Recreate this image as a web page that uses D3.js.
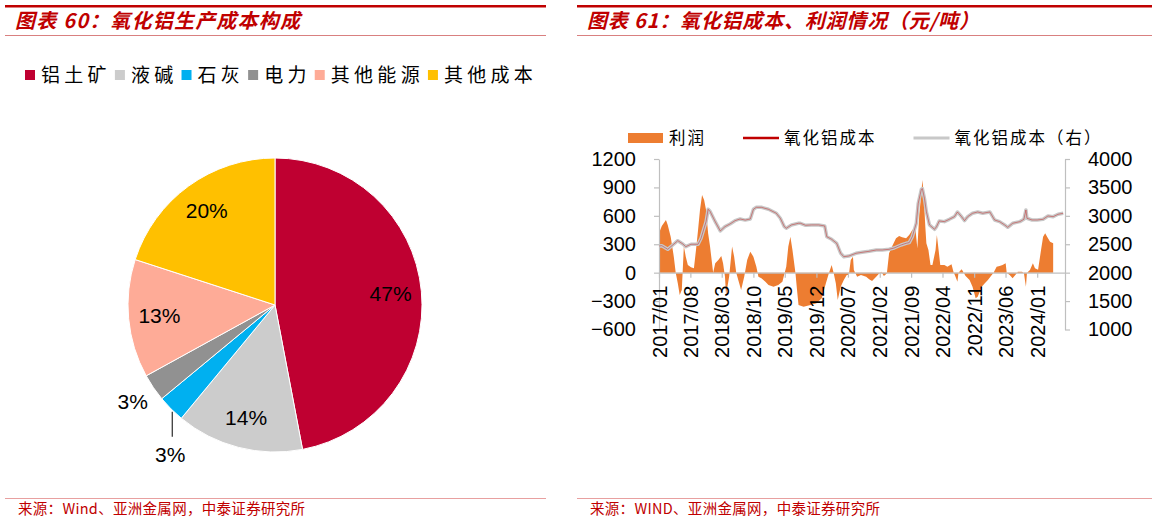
<!DOCTYPE html>
<html>
<head>
<meta charset="utf-8">
<script src="https://cdn.jsdelivr.net/npm/d3@7"></script>
<style>
  body { margin: 0; background: #fff; }
  text { font-family: "Liberation Sans", Arial, sans-serif; }
  .cjk { font-family: "Noto Sans CJK SC", sans-serif; }
</style>
</head>
<body>
<svg id="drawing_region"></svg>
<script>
// ---- 图表60 data ----
const pieLabels = ['铝土矿', '液碱', '石灰', '电力', '其他能源', '其他成本'];
const pieValues = [47, 14, 3, 3, 13, 20];

// ---- 图表61 data ----
const xTickLabels = ['2017/01','2017/08','2018/03','2018/10','2019/05','2019/12','2020/07',
                     '2021/02','2021/09','2022/04','2022/11','2023/06','2024/01'];
const leftTicks = [-600, -300, 0, 300, 600, 900, 1200];
const rightTicks = [1000, 1500, 2000, 2500, 3000, 3500, 4000];
const seriesNames = ['利润', '氧化铝成本', '氧化铝成本（右）'];

const profitDates = ['2017-01-04','2017-01-20','2017-02-17','2017-03-01','2017-03-21','2017-04-11','2017-04-24','2017-05-08','2017-05-21','2017-06-04','2017-06-18','2017-07-01','2017-07-15','2017-08-05','2017-08-25','2017-09-08','2017-09-22','2017-10-05','2017-10-19','2017-11-02','2017-11-15','2017-11-29','2017-12-12',
  '2018-01-02','2018-01-16','2018-02-06','2018-02-26','2018-03-10','2018-03-23','2018-03-30','2018-04-20','2018-05-10','2018-05-24','2018-06-07','2018-06-27','2018-07-10','2018-07-31','2018-08-20','2018-09-10','2018-10-01','2018-10-21','2018-11-04','2018-11-24','2018-12-21',
  '2019-01-11','2019-02-14','2019-03-18','2019-04-15','2019-05-11','2019-05-25','2019-06-08','2019-06-22','2019-07-12','2019-07-25','2019-08-02','2019-09-05','2019-10-22','2019-12-02',
  '2020-01-06','2020-02-03','2020-02-23','2020-03-13','2020-03-26','2020-04-10','2020-04-23','2020-05-13','2020-06-03','2020-06-23','2020-07-07','2020-07-20','2020-08-04','2020-08-10','2020-09-01','2020-09-27','2020-11-01','2020-11-21','2020-12-11',
  '2021-01-08','2021-01-28','2021-02-11','2021-03-01','2021-03-21','2021-04-05','2021-04-25','2021-05-22','2021-06-12','2021-07-02','2021-07-29','2021-08-19','2021-09-09','2021-09-29','2021-10-13','2021-10-26','2021-11-09','2021-11-16','2021-11-23','2021-12-06','2021-12-13','2021-12-27',
  '2022-01-10','2022-01-23','2022-02-13','2022-02-22','2022-03-03','2022-03-17','2022-04-14','2022-05-04','2022-06-01','2022-06-14','2022-06-28','2022-07-11','2022-07-18','2022-08-08','2022-08-15','2022-09-04','2022-10-01','2022-10-21','2022-11-11','2022-11-25','2022-12-22',
  '2023-01-12','2023-02-02','2023-02-28','2023-03-12','2023-04-02','2023-04-22','2023-05-12','2023-06-02','2023-06-09','2023-06-29','2023-07-19','2023-08-09','2023-08-23','2023-09-20','2023-10-03','2023-10-17','2023-10-24','2023-11-13','2023-12-03','2023-12-17',
  '2024-01-07','2024-01-27','2024-02-10','2024-02-24','2024-03-08','2024-03-28','2024-04-18'];
const profitValues = [430,493,556,503,380,169,0,-113,-236,-183,275,169,81,56,46,239,450,662,820,767,662,415,275,
  0,99,134,176,99,-42,-236,-42,275,169,0,-113,-183,-42,134,222,169,63,-42,-60,-95,
  -130,-148,-130,-95,63,275,380,239,0,-218,-341,-359,-341,-324,
  -271,-113,-7,81,0,-113,-289,-148,-77,-25,-25,134,169,28,-42,-25,-42,-70,-88,
  -42,-10,10,-35,-10,204,275,363,387,373,363,398,450,479,257,609,838,979,873,486,310,239,
  81,81,239,398,275,81,81,63,88,10,-42,-95,0,35,20,-35,-77,-148,-271,-253,-148,
  -113,-77,-25,0,63,70,81,99,0,-25,-60,-20,10,10,0,-148,0,28,99,46,
  30,239,380,415,380,327,310];

const costDates = ['2017-01-03','2017-01-20','2017-03-01','2017-04-04','2017-05-08','2017-06-11','2017-07-01','2017-08-05','2017-09-22','2017-10-12','2017-11-15','2017-11-29','2017-12-12',
  '2018-01-16','2018-02-19','2018-03-23','2018-04-26','2018-05-30','2018-07-03','2018-08-07','2018-09-10','2018-10-01','2018-10-21','2018-11-24',
  '2019-01-11','2019-03-05','2019-04-01','2019-04-28','2019-05-11','2019-06-15','2019-08-02','2019-08-15','2019-09-19','2019-10-29','2019-12-16',
  '2020-01-26','2020-02-09','2020-03-13','2020-04-16','2020-05-13','2020-06-03','2020-07-07','2020-08-24','2020-10-04','2020-11-21',
  '2021-01-08','2021-02-18','2021-04-05','2021-05-09','2021-06-25','2021-07-29','2021-08-19','2021-09-09','2021-10-06','2021-10-19','2021-11-09','2021-11-16','2021-11-30','2021-12-13',
  '2022-01-03','2022-02-06','2022-02-20','2022-03-10','2022-04-14','2022-05-17','2022-06-21','2022-07-11','2022-08-08','2022-08-28','2022-09-18','2022-10-21','2022-11-25','2022-12-29',
  '2023-02-15','2023-03-19','2023-04-22','2023-05-26','2023-06-16','2023-07-19','2023-09-06','2023-10-03','2023-10-17','2023-10-24','2023-11-27',
  '2024-01-01','2024-02-10','2024-03-14','2024-04-18','2024-05-21','2024-06-25'];
const costValues = [2470,2475,2411,2487,2563,2505,2457,2500,2500,2605,2897,3115,3080,
  2897,2734,2810,2857,2915,2945,2925,2945,3115,3150,3150,
  3115,3045,2957,2810,2781,2840,2869,2869,2834,2840,2840,
  2822,2633,2587,2517,2341,2281,2293,2341,2358,2376,
  2399,2399,2411,2434,2487,2517,2528,2633,2869,3221,3467,3479,3309,3074,
  2840,2763,2810,2910,2898,2939,2985,3068,2985,2915,2985,3045,3068,3045,
  3068,2927,2898,2840,2798,2869,2898,2939,3103,2957,2927,
  2927,2939,2998,2985,3027,3045];

// ---- styles ----
const sliceColors = ['#BF0031', '#CCCCCC', '#00B0F0', '#919191', '#FEAB97', '#FFC000'];
const labelMode = ['in', 'in', 'leader', 'out', 'in', 'in'];
const RED = '#C00000';

const svg = d3.select('#drawing_region')
    .attr('width', 1154)
    .attr('height', 521);

// page frame: heading bars, title, source
function frame(x0, x1, title, source, spacing) {
    svg.append('rect')
        .attr('x', x0).attr('y', 5).attr('width', x1 - x0).attr('height', 2.5)
        .attr('fill', RED);
    svg.append('text')
        .attr('class', 'cjk')
        .attr('x', x0 + 10).attr('y', 21)
        .attr('dy', '0.35em')
        .style('font-size', '20px')
        .style('letter-spacing', spacing)
        .style('font-weight', 'bold')
        .style('font-style', 'italic')
        .attr('fill', RED)
        .text(title);
    svg.append('line')
        .attr('x1', x0).attr('x2', x1).attr('y1', 35.5).attr('y2', 35.5)
        .attr('stroke', '#D98080').attr('stroke-width', 1);
    svg.append('line')
        .attr('x1', x0).attr('x2', x1).attr('y1', 498.5).attr('y2', 498.5)
        .attr('stroke', '#E8A0A0').attr('stroke-width', 1);
    svg.append('text')
        .attr('class', 'cjk')
        .attr('x', x0 + 13).attr('y', 509)
        .attr('dy', '0.35em')
        .style('font-size', '14.5px')
        .style('letter-spacing', '0.3px')
        .attr('fill', RED)
        .text(source);
}

frame(5, 546, '图表 60：氧化铝生产成本构成', '来源：Wind、亚洲金属网，中泰证券研究所', '1.2px');
frame(577, 1152, '图表 61：氧化铝成本、利润情况（元/吨）', '来源：WIND、亚洲金属网，中泰证券研究所', '0.8px');

// ---------- pie ----------
const cx = 275, cy = 305, radius = 147;
const pieG = svg.append('g').attr('transform', `translate(${cx},${cy})`);

const pie = d3.pie().sort(null).value(d => d);
const arcs = pie(pieValues);
const arc = d3.arc().innerRadius(0).outerRadius(radius);
const labelArc = d3.arc().innerRadius(radius * 0.79).outerRadius(radius * 0.79);
const outArc = d3.arc().innerRadius(radius * 1.17).outerRadius(radius * 1.17);
const edgeArc = d3.arc().innerRadius(radius + 4).outerRadius(radius + 4);

pieG.selectAll('path')
    .data(arcs)
    .enter()
    .append('path')
    .attr('d', arc)
    .attr('fill', (d, i) => sliceColors[i])
    .attr('stroke', 'white')
    .attr('stroke-width', 1);

arcs.forEach((d, i) => {
    let pos;
    if (labelMode[i] === 'in') pos = labelArc.centroid(d);
    else if (labelMode[i] === 'out') pos = outArc.centroid(d);
    else {
        const e = edgeArc.centroid(d);
        pieG.append('line')
            .attr('x1', e[0] + 4).attr('y1', e[1])
            .attr('x2', e[0] + 4).attr('y2', e[1] + 25)
            .attr('stroke', '#000').attr('stroke-width', 1);
        pos = [e[0] + 2, e[1] + 43];
    }
    pieG.append('text')
        .attr('x', pos[0]).attr('y', pos[1])
        .attr('dy', '0.35em')
        .style('text-anchor', 'middle')
        .style('font-size', '21px')
        .attr('fill', '#000')
        .text(d.data + '%');
});

// legend (left)
let lx = 25;
pieLabels.forEach((name, i) => {
    svg.append('rect')
        .attr('x', lx).attr('y', 70).attr('width', 10).attr('height', 10)
        .attr('fill', sliceColors[i]);
    const t = svg.append('text')
        .attr('class', 'cjk')
        .attr('x', lx + 16).attr('y', 75)
        .attr('dy', '0.35em')
        .style('font-size', '19px')
        .style('letter-spacing', '4.3px')
        .attr('fill', '#000')
        .text(name);
    lx += 16 + t.node().getBBox().width + 4;
});

// ---------- line / area chart ----------
const parse = d3.timeParse('%Y-%m-%d');
const profit = profitDates.map((d, i) => ({ date: parse(d), v: profitValues[i] }));
const cost = costDates.map((d, i) => ({ date: parse(d), v: costValues[i] }));
const tickDates = xTickLabels.map(s => d3.timeParse('%Y/%m')(s));

const x = d3.scaleTime()
    .domain([new Date(2017, 0, 1), new Date(2024, 6, 7)])
    .range([659, 1065]);
const yL = d3.scaleLinear().domain([-600, 1200]).range([329.5, 159]);
const yR = d3.scaleLinear().domain([1000, 4000]).range([329.5, 159]);

const area = d3.area()
    .x(d => x(d.date))
    .y0(yL(0))
    .y1(d => yL(d.v));

svg.append('path')
    .datum(profit)
    .attr('d', area)
    .attr('fill', '#ED7D31');

function styleAxis(g, size) {
    g.selectAll('path, line').attr('stroke', '#BFBFBF').attr('stroke-width', 1.2);
    g.selectAll('text').style('font-size', size).attr('fill', '#000');
}

svg.append('g')
    .attr('transform', `translate(659,0)`)
    .call(d3.axisLeft(yL).tickValues(leftTicks).tickSize(5).tickSizeOuter(0).tickPadding(18)
        .tickFormat(d3.format('d')))
    .call(g => styleAxis(g, '20px'));

svg.append('g')
    .attr('transform', `translate(1065,0)`)
    .call(d3.axisRight(yR).tickValues(rightTicks).tickSize(5).tickSizeOuter(0).tickPadding(18)
        .tickFormat(d3.format('d')))
    .call(g => styleAxis(g, '20px'));

svg.append('g')
    .attr('transform', `translate(0,${yL(0)})`)
    .call(d3.axisBottom(x).tickValues(tickDates).tickSize(5).tickSizeOuter(0)
        .tickFormat((d, i) => xTickLabels[i]))
    .call(g => styleAxis(g, '20px'))
    .call(g => g.selectAll('text')
        .attr('y', 0).attr('x', -13).attr('dy', '0.35em')
        .attr('transform', 'rotate(-90)')
        .style('text-anchor', 'end'));

const line = d3.line()
    .x(d => x(d.date))
    .y(d => yR(d.v));

svg.append('path')
    .datum(cost)
    .attr('d', line)
    .attr('fill', 'none')
    .attr('stroke', '#C8C8C8')
    .attr('stroke-width', 3.5)
    .attr('stroke-linejoin', 'round');

svg.append('path')
    .datum(cost)
    .attr('d', line)
    .attr('fill', 'none')
    .attr('stroke', RED)
    .attr('stroke-opacity', 0.45)
    .attr('stroke-width', 0.9);

// legend (right)
let rx = 628;
const ly = 138;
seriesNames.forEach((name, i) => {
    if (i === 0) {
        svg.append('rect')
            .attr('x', rx).attr('y', ly - 5).attr('width', 35).attr('height', 10)
            .attr('fill', '#ED7D31');
    } else {
        svg.append('line')
            .attr('x1', rx).attr('x2', rx + 36).attr('y1', ly).attr('y2', ly)
            .attr('stroke', i === 1 ? RED : '#C8C8C8')
            .attr('stroke-width', i === 1 ? 2.5 : 3);
    }
    const t = svg.append('text')
        .attr('class', 'cjk')
        .attr('x', rx + 41).attr('y', ly)
        .attr('dy', '0.35em')
        .style('font-size', '16.5px')
        .style('letter-spacing', '2px')
        .attr('fill', '#000')
        .text(name);
    rx += 41 + t.node().getBBox().width + 37;
});
</script>
</body>
</html>
